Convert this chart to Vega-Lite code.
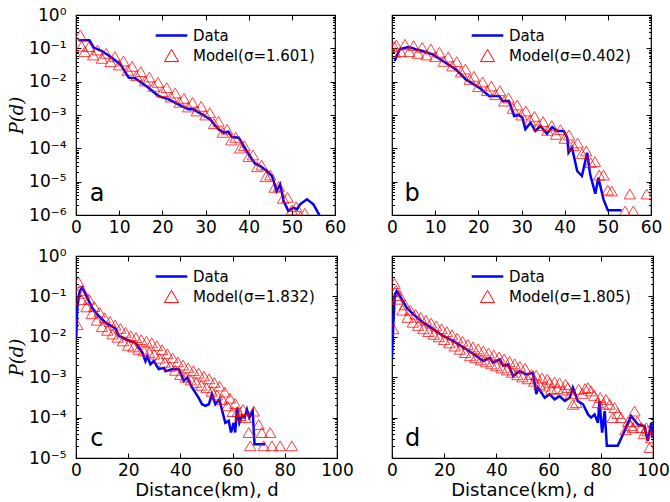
{
  "$schema": "https://vega.github.io/schema/vega-lite/v6.json",
  "padding": {"left": 7, "top": 5, "right": 5, "bottom": 5},
  "background": "white",
  "config": {
    "font": "DejaVu Sans",
    "view": {"stroke": "#000000", "strokeWidth": 1.2},
    "axis": {"grid": false, "domain": false, "labelFontSize": 17, "labelColor": "#000000", "tickColor": "#000000", "titleColor": "#000000", "labelFont": "DejaVu Sans", "labelFlush": false, "tickWidth": 1},
    "legend": {"orient": "none", "legendX": 88, "legendY": 13, "title": null, "labelFontSize": 15, "labelFont": "DejaVu Sans", "labelColor": "#000000", "symbolType": "stroke", "symbolSize": 1000, "symbolStrokeWidth": 2.5, "labelOffset": 14, "rowPadding": 3, "padding": 0}
  },
  "datasets": {
    "aD": [{"d":0.6,"p":1.74e-1},{"d":3.1,"p":1.74e-1},{"d":4.1,"p":1.05e-1},{"d":6.0,"p":8.3e-2},{"d":8.3,"p":5.2e-2},{"d":10.3,"p":3.3e-2},{"d":12.2,"p":1.32e-2},{"d":13.7,"p":1.26e-2},{"d":16.8,"p":6.6e-3},{"d":19.1,"p":3.7e-3},{"d":21.5,"p":2.95e-3},{"d":24.5,"p":1.86e-3},{"d":26.1,"p":1.48e-3},{"d":27.2,"p":1.48e-3},{"d":29.2,"p":1.05e-3},{"d":31.1,"p":7.4e-4},{"d":33.0,"p":3.7e-4},{"d":34.2,"p":2.95e-4},{"d":35.3,"p":3.16e-4},{"d":36.1,"p":2.19e-4},{"d":37.7,"p":2.09e-4},{"d":38.4,"p":1.48e-4},{"d":40.0,"p":6.6e-5},{"d":41.5,"p":3.47e-5},{"d":42.7,"p":2.95e-5},{"d":44.2,"p":2.09e-5},{"d":45.4,"p":1.48e-5},{"d":46.5,"p":5.2e-6},{"d":47.3,"p":8.3e-6},{"d":48.1,"p":2.63e-6},{"d":49.2,"p":1.32e-6},{"d":50.4,"p":1.66e-6},{"d":51.2,"p":1.48e-6},{"d":51.9,"p":2.09e-6},{"d":53.5,"p":2.95e-6},{"d":55.0,"p":2.09e-6},{"d":56.5,"p":9.3e-7},{"d":57.2,"p":6.3e-7}],
    "aM": [{"d":1,"p":2.51e-1},{"d":1.3,"p":1.17e-1},{"d":2,"p":7.94e-2},{"d":3,"p":1.12e-1},{"d":4,"p":6.31e-2},{"d":5,"p":8.91e-2},{"d":6,"p":5.01e-2},{"d":7,"p":7.08e-2},{"d":8,"p":3.98e-2},{"d":9,"p":5.62e-2},{"d":10,"p":3.16e-2},{"d":11,"p":4.17e-2},{"d":12,"p":2.19e-2},{"d":13,"p":2.88e-2},{"d":14,"p":1.51e-2},{"d":15,"p":2.0e-2},{"d":16,"p":1.05e-2},{"d":17,"p":1.38e-2},{"d":18,"p":7.24e-3},{"d":19,"p":9.55e-3},{"d":20,"p":5.01e-3},{"d":21,"p":6.61e-3},{"d":22,"p":3.47e-3},{"d":23,"p":4.57e-3},{"d":24,"p":2.40e-3},{"d":25,"p":3.16e-3},{"d":26,"p":1.74e-3},{"d":27,"p":2.40e-3},{"d":28,"p":1.32e-3},{"d":29,"p":1.82e-3},{"d":30,"p":1.0e-3},{"d":31,"p":1.17e-3},{"d":32,"p":5.5e-4},{"d":33,"p":6.46e-4},{"d":34,"p":3.02e-4},{"d":35,"p":3.72e-4},{"d":36,"p":1.78e-4},{"d":37,"p":2.14e-4},{"d":38,"p":1.02e-4},{"d":39,"p":1.2e-4},{"d":40,"p":5.62e-5},{"d":41,"p":6.31e-5},{"d":42,"p":2.82e-5},{"d":43,"p":3.16e-5},{"d":44,"p":1.41e-5},{"d":45,"p":1.58e-5},{"d":46,"p":6.76e-6},{"d":47,"p":7.24e-6},{"d":48,"p":3.16e-6},{"d":49,"p":3.39e-6},{"d":50,"p":1.41e-6},{"d":51,"p":1.78e-6},{"d":52,"p":8.91e-7},{"d":53,"p":1.12e-6}],
    "bD": [{"d":0.6,"p":4.17e-2},{"d":1.8,"p":9.33e-2},{"d":3.7,"p":1.10e-1},{"d":4.4,"p":1.05e-1},{"d":5.6,"p":9.33e-2},{"d":7.1,"p":8.32e-2},{"d":9.4,"p":6.61e-2},{"d":11.8,"p":4.17e-2},{"d":14.8,"p":2.34e-2},{"d":17.1,"p":1.17e-2},{"d":20.2,"p":6.61e-3},{"d":22.5,"p":3.72e-3},{"d":24.8,"p":3.72e-3},{"d":25.6,"p":2.63e-3},{"d":27.1,"p":2.63e-3},{"d":28.3,"p":9.33e-4},{"d":29.4,"p":1.0e-3},{"d":30.2,"p":8.32e-4},{"d":30.9,"p":3.72e-4},{"d":32.1,"p":5.89e-4},{"d":33.2,"p":3.31e-4},{"d":34.4,"p":4.68e-4},{"d":35.9,"p":2.75e-4},{"d":37.1,"p":4.37e-4},{"d":38.2,"p":3.31e-4},{"d":39.8,"p":3.31e-4},{"d":40.6,"p":2.09e-4},{"d":40.9,"p":7.41e-5},{"d":41.7,"p":1.05e-4},{"d":42.9,"p":2.09e-5},{"d":44.0,"p":1.48e-5},{"d":45.2,"p":7.41e-5},{"d":45.9,"p":1.66e-5},{"d":47.1,"p":4.37e-6},{"d":47.8,"p":1.32e-5},{"d":49.0,"p":2.95e-6},{"d":50.0,"p":1.38e-6},{"d":53.2,"p":1.38e-6}],
    "bM": [{"d":0.5,"p":1.12e-1},{"d":0.7,"p":7.59e-2},{"d":1,"p":1.26e-1},{"d":2,"p":7.94e-2},{"d":3,"p":1.32e-1},{"d":4,"p":7.94e-2},{"d":5,"p":1.2e-1},{"d":6,"p":7.08e-2},{"d":7,"p":1.07e-1},{"d":8,"p":6.31e-2},{"d":9,"p":9.55e-2},{"d":10,"p":5.62e-2},{"d":11,"p":7.59e-2},{"d":12,"p":4.07e-2},{"d":13,"p":5.5e-2},{"d":14,"p":2.95e-2},{"d":15,"p":3.98e-2},{"d":16,"p":1.95e-2},{"d":17,"p":2.4e-2},{"d":18,"p":1.17e-2},{"d":19,"p":1.45e-2},{"d":20,"p":7.08e-3},{"d":21,"p":9.77e-3},{"d":22,"p":5.37e-3},{"d":23,"p":7.41e-3},{"d":24,"p":4.07e-3},{"d":25,"p":5.37e-3},{"d":26,"p":2.63e-3},{"d":27,"p":3.24e-3},{"d":28,"p":1.58e-3},{"d":29,"p":2.0e-3},{"d":30,"p":1.0e-3},{"d":31,"p":1.32e-3},{"d":32,"p":6.92e-4},{"d":33,"p":9.12e-4},{"d":34,"p":4.79e-4},{"d":35,"p":6.31e-4},{"d":36,"p":3.47e-4},{"d":37,"p":4.79e-4},{"d":38,"p":2.63e-4},{"d":39,"p":3.63e-4},{"d":40,"p":2.0e-4},{"d":41,"p":2.51e-4},{"d":42,"p":1.2e-4},{"d":43,"p":1.45e-4},{"d":44,"p":6.92e-5},{"d":45,"p":8.32e-5},{"d":46,"p":3.72e-5},{"d":47,"p":3.98e-5},{"d":48,"p":1.58e-5},{"d":49,"p":1.58e-5},{"d":50,"p":5.62e-6},{"d":50.9,"p":5.25e-6},{"d":54.0,"p":1.32e-6},{"d":55.1,"p":4.27e-6},{"d":55.9,"p":1.32e-6},{"d":59.0,"p":4.27e-6}],
    "cD": [{"d":0.1,"p":9.55e-3},{"d":0.5,"p":5.25e-2},{"d":1.4,"p":1.35e-1},{"d":2.4,"p":1.66e-1},{"d":3.7,"p":1.12e-1},{"d":6.2,"p":5.25e-2},{"d":8.8,"p":3.24e-2},{"d":11.3,"p":2.24e-2},{"d":15.1,"p":1.62e-2},{"d":16.4,"p":1.05e-2},{"d":19.0,"p":8.71e-3},{"d":22.8,"p":7.08e-3},{"d":25.4,"p":4.07e-3},{"d":26.6,"p":2.51e-3},{"d":27.3,"p":3.31e-3},{"d":28.5,"p":2.09e-3},{"d":29.8,"p":2.51e-3},{"d":31.7,"p":1.58e-3},{"d":33.7,"p":1.70e-3},{"d":34.3,"p":1.41e-3},{"d":36.8,"p":1.58e-3},{"d":39.4,"p":1.58e-3},{"d":41.3,"p":8.13e-4},{"d":42.6,"p":9.77e-4},{"d":44.5,"p":5.5e-4},{"d":47.0,"p":3.09e-4},{"d":48.3,"p":2.14e-4},{"d":49.6,"p":1.95e-4},{"d":50.9,"p":2.14e-4},{"d":52.1,"p":3.8e-4},{"d":53.4,"p":2.14e-4},{"d":54.9,"p":2.82e-4},{"d":55.9,"p":1.58e-4},{"d":57.2,"p":7.41e-5},{"d":58.5,"p":8.32e-5},{"d":59.4,"p":4.27e-5},{"d":60.4,"p":7.41e-5},{"d":61.0,"p":4.27e-5},{"d":61.7,"p":1.78e-4},{"d":62.6,"p":7.41e-5},{"d":63.6,"p":1.1e-4},{"d":64.6,"p":1.0e-4},{"d":65.5,"p":1.58e-4},{"d":66.4,"p":1.0e-4},{"d":67.7,"p":1.45e-4},{"d":68.4,"p":2.19e-5},{"d":72.5,"p":2.19e-5}],
    "cM": [{"d":0.5,"p":2.0e-2},{"d":1,"p":2.24e-1},{"d":1.5,"p":1.41e-1},{"d":2,"p":8.32e-2},{"d":3,"p":1.2e-1},{"d":4,"p":5.5e-2},{"d":5,"p":8.51e-2},{"d":6,"p":3.72e-2},{"d":7,"p":5.62e-2},{"d":8,"p":2.57e-2},{"d":9,"p":4.07e-2},{"d":10,"p":1.78e-2},{"d":11,"p":2.95e-2},{"d":12,"p":1.45e-2},{"d":13,"p":2.4e-2},{"d":14,"p":1.17e-2},{"d":15,"p":1.95e-2},{"d":16,"p":9.77e-3},{"d":17,"p":1.62e-2},{"d":18,"p":7.94e-3},{"d":19,"p":1.29e-2},{"d":20,"p":6.17e-3},{"d":21,"p":1.07e-2},{"d":22,"p":5.62e-3},{"d":23,"p":9.55e-3},{"d":24,"p":4.9e-3},{"d":25,"p":8.51e-3},{"d":26,"p":4.47e-3},{"d":27,"p":7.76e-3},{"d":28,"p":4.07e-3},{"d":29,"p":7.08e-3},{"d":30,"p":3.72e-3},{"d":31,"p":6.03e-3},{"d":32,"p":2.95e-3},{"d":33,"p":4.79e-3},{"d":34,"p":2.34e-3},{"d":35,"p":3.8e-3},{"d":36,"p":1.86e-3},{"d":37,"p":3.02e-3},{"d":38,"p":1.48e-3},{"d":39,"p":2.4e-3},{"d":40,"p":1.17e-3},{"d":41,"p":2.0e-3},{"d":42,"p":1.0e-3},{"d":43,"p":1.7e-3},{"d":44,"p":8.51e-4},{"d":45,"p":1.45e-3},{"d":46,"p":7.41e-4},{"d":47,"p":1.26e-3},{"d":48,"p":6.31e-4},{"d":49,"p":1.07e-3},{"d":50,"p":5.5e-4},{"d":51,"p":9.12e-4},{"d":52,"p":4.47e-4},{"d":53,"p":7.41e-4},{"d":54,"p":3.63e-4},{"d":55,"p":6.03e-4},{"d":56,"p":2.82e-4},{"d":57,"p":4.27e-4},{"d":58,"p":1.95e-4},{"d":59,"p":3.02e-4},{"d":60,"p":1.41e-4},{"d":61,"p":2.24e-4},{"d":62,"p":1.41e-4},{"d":63,"p":1.12e-4},{"d":64,"p":1.58e-4},{"d":65,"p":1.0e-4},{"d":66.2,"p":4.27e-5},{"d":66.8,"p":2.0e-5},{"d":68.1,"p":1.45e-4},{"d":70,"p":6.76e-5},{"d":71.2,"p":4.27e-5},{"d":71.9,"p":2.0e-5},{"d":74.4,"p":4.27e-5},{"d":75.1,"p":2.0e-5},{"d":78.2,"p":2.0e-5},{"d":82.7,"p":2.0e-5}],
    "dD": [{"d":0.0,"p":3.02e-3},{"d":0.5,"p":2.04e-2},{"d":1.1,"p":1.12e-1},{"d":1.8,"p":1.35e-1},{"d":3.1,"p":1.02e-1},{"d":5.6,"p":5.25e-2},{"d":8.1,"p":3.63e-2},{"d":12.0,"p":2.24e-2},{"d":15.8,"p":1.55e-2},{"d":19.6,"p":1.05e-2},{"d":23.4,"p":7.94e-3},{"d":28.5,"p":4.9e-3},{"d":32.4,"p":3.31e-3},{"d":34.9,"p":2.51e-3},{"d":37.5,"p":3.02e-3},{"d":38.7,"p":2.29e-3},{"d":41.3,"p":2.75e-3},{"d":42.6,"p":1.91e-3},{"d":44.5,"p":2.09e-3},{"d":46.4,"p":1.07e-3},{"d":48.9,"p":1.41e-3},{"d":51.5,"p":1.17e-3},{"d":54.0,"p":1.29e-3},{"d":55.3,"p":3.8e-4},{"d":55.9,"p":5.5e-4},{"d":57.2,"p":4.17e-4},{"d":58.5,"p":3.09e-4},{"d":60.4,"p":3.8e-4},{"d":62.3,"p":2.82e-4},{"d":64.2,"p":3.39e-4},{"d":66.2,"p":2.57e-4},{"d":68.1,"p":3.09e-4},{"d":69.3,"p":5.5e-4},{"d":71.2,"p":2.57e-4},{"d":73.2,"p":2.14e-4},{"d":75.1,"p":1.2e-4},{"d":76.3,"p":1.0e-4},{"d":77.6,"p":1.2e-4},{"d":78.9,"p":7.41e-5},{"d":79.5,"p":2.57e-4},{"d":80.5,"p":4.27e-5},{"d":81.5,"p":1.45e-4},{"d":82.3,"p":2.0e-5},{"d":86.5,"p":2.0e-5},{"d":89.1,"p":4.68e-5},{"d":91.6,"p":1.1e-4},{"d":94.2,"p":6.76e-5},{"d":96.7,"p":6.17e-5},{"d":98.0,"p":2.63e-5},{"d":99.3,"p":7.41e-5},{"d":99.8,"p":3.16e-5}],
    "dM": [{"d":0.5,"p":1.58e-2},{"d":1,"p":2.09e-1},{"d":1.5,"p":1.41e-1},{"d":2,"p":8.51e-2},{"d":3,"p":1.05e-1},{"d":4,"p":4.57e-2},{"d":5,"p":6.17e-2},{"d":6,"p":3.02e-2},{"d":7,"p":4.57e-2},{"d":8,"p":2.29e-2},{"d":9,"p":3.63e-2},{"d":10,"p":1.91e-2},{"d":11,"p":3.02e-2},{"d":12,"p":1.58e-2},{"d":13,"p":2.57e-2},{"d":14,"p":1.35e-2},{"d":15,"p":2.19e-2},{"d":16,"p":1.15e-2},{"d":17,"p":1.86e-2},{"d":18,"p":1.0e-2},{"d":19,"p":1.58e-2},{"d":20,"p":8.51e-3},{"d":21,"p":1.35e-2},{"d":22,"p":7.08e-3},{"d":23,"p":1.12e-2},{"d":24,"p":5.89e-3},{"d":25,"p":9.33e-3},{"d":26,"p":4.9e-3},{"d":27,"p":7.76e-3},{"d":28,"p":4.07e-3},{"d":29,"p":6.46e-3},{"d":30,"p":3.39e-3},{"d":31,"p":5.62e-3},{"d":32,"p":3.02e-3},{"d":33,"p":5.01e-3},{"d":34,"p":2.69e-3},{"d":35,"p":4.47e-3},{"d":36,"p":2.4e-3},{"d":37,"p":3.98e-3},{"d":38,"p":2.14e-3},{"d":39,"p":3.55e-3},{"d":40,"p":1.91e-3},{"d":41,"p":3.16e-3},{"d":42,"p":1.7e-3},{"d":43,"p":2.82e-3},{"d":44,"p":1.51e-3},{"d":45,"p":2.45e-3},{"d":46,"p":1.32e-3},{"d":47,"p":2.14e-3},{"d":48,"p":1.15e-3},{"d":49,"p":1.86e-3},{"d":50,"p":1.02e-3},{"d":51,"p":1.66e-3},{"d":52,"p":9.12e-4},{"d":53.4,"p":1.17e-3},{"d":54.5,"p":7.94e-4},{"d":55.3,"p":1.12e-3},{"d":56.5,"p":6.61e-4},{"d":57.5,"p":9.55e-4},{"d":58.5,"p":6.03e-4},{"d":59.5,"p":8.91e-4},{"d":60.4,"p":7.24e-4},{"d":61.0,"p":5.01e-4},{"d":62.3,"p":7.59e-4},{"d":63.3,"p":5.25e-4},{"d":64.2,"p":7.24e-4},{"d":65.5,"p":4.79e-4},{"d":66.5,"p":6.61e-4},{"d":67.4,"p":5.5e-4},{"d":68.5,"p":3.98e-4},{"d":69.3,"p":2.14e-4},{"d":70.6,"p":2.34e-4},{"d":71.5,"p":5.01e-4},{"d":73.0,"p":3.98e-4},{"d":74.0,"p":5.25e-4},{"d":75.1,"p":5.5e-4},{"d":76.3,"p":4.57e-4},{"d":77.5,"p":3.55e-4},{"d":78.9,"p":2.34e-4},{"d":79.8,"p":3.16e-4},{"d":80.8,"p":2.14e-4},{"d":82.0,"p":2.82e-4},{"d":83.4,"p":2.14e-4},{"d":84.6,"p":1.0e-4},{"d":85.3,"p":1.78e-4},{"d":86.5,"p":1.26e-4},{"d":87.8,"p":1.0e-4},{"d":89.5,"p":5.01e-5},{"d":90.5,"p":7.94e-5},{"d":91.5,"p":6.31e-5},{"d":92.3,"p":5.62e-5},{"d":92.9,"p":1.45e-4},{"d":94.0,"p":7.94e-5},{"d":95.5,"p":5.62e-5},{"d":96.5,"p":3.98e-5},{"d":97.5,"p":5.62e-5},{"d":98.0,"p":4.68e-5},{"d":98.7,"p":1.82e-5},{"d":99.3,"p":3.16e-5}]
  },
  "columns": 2,
  "spacing": {"row": 41, "column": 55},
  "bounds": "flush",
  "resolve": {"scale": {"color": "independent", "x": "independent", "y": "independent"}, "legend": {"color": "independent"}},
  "concat": [
    {
      "width": 259, "height": 200,
      "resolve": {"axis": {"x": "independent", "y": "independent"}},
      "layer": [
        {"data": {"name": "aD"}, "mark": {"type": "line", "strokeWidth": 2.5, "clip": true},
         "encoding": {
           "x": {"field": "d", "type": "quantitative", "scale": {"domain": [0, 60], "nice": false}, "axis": {"orient": "bottom", "values": [0,10,20,30,40,50,60], "title": null, "tickSize": -5, "labelPadding": 9}},
           "y": {"field": "p", "type": "quantitative", "scale": {"type": "log", "domain": [1e-6, 1], "nice": false}, "axis": {"orient": "left", "values": [1,0.1,0.01,0.001,0.0001,0.00001,0.000001], "labelExpr": "'10' + ['⁰','⁻¹','⁻²','⁻³','⁻⁴','⁻⁵','⁻⁶'][round(-log(datum.value)/LN10)]", "tickSize": -5, "labelPadding": 15, "title": "P(d)", "titleFont": "DejaVu Serif", "titleFontStyle": "italic", "titleFontWeight": "normal", "titleFontSize": 18, "titlePadding": 2}},
           "color": {"datum": "Data", "type": "nominal", "scale": {"domain": ["Data", "Model(σ=1.601)"], "range": ["#0000ff", "#ff0000"]},
             "legend": {"encode": {"symbols": {"update": {"shape": {"signal": "datum.value === 'Data' ? 'stroke' : 'triangle-up'"}, "size": {"signal": "datum.value === 'Data' ? 1000 : 200"}, "strokeWidth": {"signal": "datum.value === 'Data' ? 2.5 : 1"}, "fill": {"value": "transparent"}, "opacity": {"value": 1}}}}}}
         }},
        {"data": {"name": "aM"}, "mark": {"type": "point", "shape": "triangle-up", "filled": false, "size": 130, "strokeWidth": 1, "opacity": 0.75, "clip": true},
         "encoding": {
           "x": {"field": "d", "type": "quantitative", "scale": {"domain": [0, 60], "nice": false}, "axis": {"orient": "top", "values": [0,10,20,30,40,50,60], "labels": false, "title": null, "tickSize": -5}},
           "y": {"field": "p", "type": "quantitative", "scale": {"type": "log", "domain": [1e-6, 1], "nice": false}, "axis": {"orient": "right", "values": [1,0.1,0.01,0.001,0.0001,0.00001,0.000001], "labels": false, "title": null, "tickSize": -5}},
           "color": {"datum": "Model(σ=1.601)", "type": "nominal"}
         }},
        {"data": {"values": [{"d": 3.2, "p": 2.63e-6, "t": "a"}]}, "mark": {"type": "text", "fontSize": 24, "align": "left", "baseline": "alphabetic", "color": "#000000"},
         "encoding": {
           "x": {"field": "d", "type": "quantitative", "scale": {"domain": [0, 60], "nice": false}, "axis": null},
           "y": {"field": "p", "type": "quantitative", "scale": {"type": "log", "domain": [1e-6, 1], "nice": false}, "axis": {"orient": "left", "values": [2e-6,3e-6,4e-6,5e-6,6e-6,7e-6,8e-6,9e-6,2e-5,3e-5,4e-5,5e-5,6e-5,7e-5,8e-5,9e-5,2e-4,3e-4,4e-4,5e-4,6e-4,7e-4,8e-4,9e-4,2e-3,3e-3,4e-3,5e-3,6e-3,7e-3,8e-3,9e-3,2e-2,3e-2,4e-2,5e-2,6e-2,7e-2,8e-2,9e-2,2e-1,3e-1,4e-1,5e-1,6e-1,7e-1,8e-1,9e-1], "labels": false, "title": null, "tickSize": -2.5}},
           "text": {"field": "t"}
         }},
        {"data": {"values": [{"d": 3.2, "p": 2.63e-6, "t": "a"}]}, "mark": {"type": "text", "opacity": 0},
         "encoding": {
           "x": {"field": "d", "type": "quantitative", "scale": {"domain": [0, 60], "nice": false}, "axis": null},
           "y": {"field": "p", "type": "quantitative", "scale": {"type": "log", "domain": [1e-6, 1], "nice": false}, "axis": {"orient": "right", "values": [2e-6,3e-6,4e-6,5e-6,6e-6,7e-6,8e-6,9e-6,2e-5,3e-5,4e-5,5e-5,6e-5,7e-5,8e-5,9e-5,2e-4,3e-4,4e-4,5e-4,6e-4,7e-4,8e-4,9e-4,2e-3,3e-3,4e-3,5e-3,6e-3,7e-3,8e-3,9e-3,2e-2,3e-2,4e-2,5e-2,6e-2,7e-2,8e-2,9e-2,2e-1,3e-1,4e-1,5e-1,6e-1,7e-1,8e-1,9e-1], "labels": false, "title": null, "tickSize": -2.5}},
           "text": {"field": "t"}
         }}
      ]
    },
    {
      "width": 259, "height": 200,
      "resolve": {"axis": {"x": "independent", "y": "independent"}},
      "layer": [
        {"data": {"name": "bD"}, "mark": {"type": "line", "strokeWidth": 2.5, "clip": true},
         "encoding": {
           "x": {"field": "d", "type": "quantitative", "scale": {"domain": [0, 60], "nice": false}, "axis": {"orient": "bottom", "values": [0,10,20,30,40,50,60], "title": null, "tickSize": -5, "labelPadding": 9}},
           "y": {"field": "p", "type": "quantitative", "scale": {"type": "log", "domain": [1e-6, 1], "nice": false}, "axis": {"orient": "left", "values": [1,0.1,0.01,0.001,0.0001,0.00001,0.000001], "labels": false, "tickSize": -5, "title": null}},
           "color": {"datum": "Data", "type": "nominal", "scale": {"domain": ["Data", "Model(σ=0.402)"], "range": ["#0000ff", "#ff0000"]},
             "legend": {"encode": {"symbols": {"update": {"shape": {"signal": "datum.value === 'Data' ? 'stroke' : 'triangle-up'"}, "size": {"signal": "datum.value === 'Data' ? 1000 : 200"}, "strokeWidth": {"signal": "datum.value === 'Data' ? 2.5 : 1"}, "fill": {"value": "transparent"}, "opacity": {"value": 1}}}}}}
         }},
        {"data": {"name": "bM"}, "mark": {"type": "point", "shape": "triangle-up", "filled": false, "size": 130, "strokeWidth": 1, "opacity": 0.75, "clip": true},
         "encoding": {
           "x": {"field": "d", "type": "quantitative", "scale": {"domain": [0, 60], "nice": false}, "axis": {"orient": "top", "values": [0,10,20,30,40,50,60], "labels": false, "title": null, "tickSize": -5}},
           "y": {"field": "p", "type": "quantitative", "scale": {"type": "log", "domain": [1e-6, 1], "nice": false}, "axis": {"orient": "right", "values": [1,0.1,0.01,0.001,0.0001,0.00001,0.000001], "labels": false, "title": null, "tickSize": -5}},
           "color": {"datum": "Model(σ=0.402)", "type": "nominal"}
         }},
        {"data": {"values": [{"d": 2.9, "p": 2.63e-6, "t": "b"}]}, "mark": {"type": "text", "fontSize": 24, "align": "left", "baseline": "alphabetic", "color": "#000000"},
         "encoding": {
           "x": {"field": "d", "type": "quantitative", "scale": {"domain": [0, 60], "nice": false}, "axis": null},
           "y": {"field": "p", "type": "quantitative", "scale": {"type": "log", "domain": [1e-6, 1], "nice": false}, "axis": {"orient": "left", "values": [2e-6,3e-6,4e-6,5e-6,6e-6,7e-6,8e-6,9e-6,2e-5,3e-5,4e-5,5e-5,6e-5,7e-5,8e-5,9e-5,2e-4,3e-4,4e-4,5e-4,6e-4,7e-4,8e-4,9e-4,2e-3,3e-3,4e-3,5e-3,6e-3,7e-3,8e-3,9e-3,2e-2,3e-2,4e-2,5e-2,6e-2,7e-2,8e-2,9e-2,2e-1,3e-1,4e-1,5e-1,6e-1,7e-1,8e-1,9e-1], "labels": false, "title": null, "tickSize": -2.5}},
           "text": {"field": "t"}
         }},
        {"data": {"values": [{"d": 2.9, "p": 2.63e-6, "t": "b"}]}, "mark": {"type": "text", "opacity": 0},
         "encoding": {
           "x": {"field": "d", "type": "quantitative", "scale": {"domain": [0, 60], "nice": false}, "axis": null},
           "y": {"field": "p", "type": "quantitative", "scale": {"type": "log", "domain": [1e-6, 1], "nice": false}, "axis": {"orient": "right", "values": [2e-6,3e-6,4e-6,5e-6,6e-6,7e-6,8e-6,9e-6,2e-5,3e-5,4e-5,5e-5,6e-5,7e-5,8e-5,9e-5,2e-4,3e-4,4e-4,5e-4,6e-4,7e-4,8e-4,9e-4,2e-3,3e-3,4e-3,5e-3,6e-3,7e-3,8e-3,9e-3,2e-2,3e-2,4e-2,5e-2,6e-2,7e-2,8e-2,9e-2,2e-1,3e-1,4e-1,5e-1,6e-1,7e-1,8e-1,9e-1], "labels": false, "title": null, "tickSize": -2.5}},
           "text": {"field": "t"}
         }}
      ]
    },
    {
      "width": 261, "height": 202,
      "resolve": {"axis": {"x": "independent", "y": "independent"}},
      "layer": [
        {"data": {"name": "cD"}, "mark": {"type": "line", "strokeWidth": 2.5, "clip": true},
         "encoding": {
           "x": {"field": "d", "type": "quantitative", "scale": {"domain": [0, 100], "nice": false}, "axis": {"orient": "bottom", "values": [0,20,40,60,80,100], "title": "Distance(km), d", "titleFontSize": 18, "titleFontWeight": "normal", "titlePadding": 3, "tickSize": -5, "labelPadding": 9}},
           "y": {"field": "p", "type": "quantitative", "scale": {"type": "log", "domain": [1e-5, 1], "nice": false}, "axis": {"orient": "left", "values": [1,0.1,0.01,0.001,0.0001,0.00001], "labelExpr": "'10' + ['⁰','⁻¹','⁻²','⁻³','⁻⁴','⁻⁵','⁻⁶'][round(-log(datum.value)/LN10)]", "tickSize": -5, "labelPadding": 15, "title": "P(d)", "titleFont": "DejaVu Serif", "titleFontStyle": "italic", "titleFontWeight": "normal", "titleFontSize": 18, "titlePadding": 2}},
           "color": {"datum": "Data", "type": "nominal", "scale": {"domain": ["Data", "Model(σ=1.832)"], "range": ["#0000ff", "#ff0000"]},
             "legend": {"encode": {"symbols": {"update": {"shape": {"signal": "datum.value === 'Data' ? 'stroke' : 'triangle-up'"}, "size": {"signal": "datum.value === 'Data' ? 1000 : 200"}, "strokeWidth": {"signal": "datum.value === 'Data' ? 2.5 : 1"}, "fill": {"value": "transparent"}, "opacity": {"value": 1}}}}}}
         }},
        {"data": {"name": "cM"}, "mark": {"type": "point", "shape": "triangle-up", "filled": false, "size": 130, "strokeWidth": 1, "opacity": 0.75, "clip": true},
         "encoding": {
           "x": {"field": "d", "type": "quantitative", "scale": {"domain": [0, 100], "nice": false}, "axis": {"orient": "top", "values": [0,20,40,60,80,100], "labels": false, "title": null, "tickSize": -5}},
           "y": {"field": "p", "type": "quantitative", "scale": {"type": "log", "domain": [1e-5, 1], "nice": false}, "axis": {"orient": "right", "values": [1,0.1,0.01,0.001,0.0001,0.00001], "labels": false, "title": null, "tickSize": -5}},
           "color": {"datum": "Model(σ=1.832)", "type": "nominal"}
         }},
        {"data": {"values": [{"d": 5.5, "p": 2.0e-5, "t": "c"}]}, "mark": {"type": "text", "fontSize": 24, "align": "left", "baseline": "alphabetic", "color": "#000000"},
         "encoding": {
           "x": {"field": "d", "type": "quantitative", "scale": {"domain": [0, 100], "nice": false}, "axis": null},
           "y": {"field": "p", "type": "quantitative", "scale": {"type": "log", "domain": [1e-5, 1], "nice": false}, "axis": {"orient": "left", "values": [2e-5,3e-5,4e-5,5e-5,6e-5,7e-5,8e-5,9e-5,2e-4,3e-4,4e-4,5e-4,6e-4,7e-4,8e-4,9e-4,2e-3,3e-3,4e-3,5e-3,6e-3,7e-3,8e-3,9e-3,2e-2,3e-2,4e-2,5e-2,6e-2,7e-2,8e-2,9e-2,2e-1,3e-1,4e-1,5e-1,6e-1,7e-1,8e-1,9e-1], "labels": false, "title": null, "tickSize": -2.5}},
           "text": {"field": "t"}
         }},
        {"data": {"values": [{"d": 5.5, "p": 2.0e-5, "t": "c"}]}, "mark": {"type": "text", "opacity": 0},
         "encoding": {
           "x": {"field": "d", "type": "quantitative", "scale": {"domain": [0, 100], "nice": false}, "axis": null},
           "y": {"field": "p", "type": "quantitative", "scale": {"type": "log", "domain": [1e-5, 1], "nice": false}, "axis": {"orient": "right", "values": [2e-5,3e-5,4e-5,5e-5,6e-5,7e-5,8e-5,9e-5,2e-4,3e-4,4e-4,5e-4,6e-4,7e-4,8e-4,9e-4,2e-3,3e-3,4e-3,5e-3,6e-3,7e-3,8e-3,9e-3,2e-2,3e-2,4e-2,5e-2,6e-2,7e-2,8e-2,9e-2,2e-1,3e-1,4e-1,5e-1,6e-1,7e-1,8e-1,9e-1], "labels": false, "title": null, "tickSize": -2.5}},
           "text": {"field": "t"}
         }}
      ]
    },
    {
      "width": 261, "height": 202,
      "resolve": {"axis": {"x": "independent", "y": "independent"}},
      "layer": [
        {"data": {"name": "dD"}, "mark": {"type": "line", "strokeWidth": 2.5, "clip": true},
         "encoding": {
           "x": {"field": "d", "type": "quantitative", "scale": {"domain": [0, 100], "nice": false}, "axis": {"orient": "bottom", "values": [0,20,40,60,80,100], "title": "Distance(km), d", "titleFontSize": 18, "titleFontWeight": "normal", "titlePadding": 3, "tickSize": -5, "labelPadding": 9}},
           "y": {"field": "p", "type": "quantitative", "scale": {"type": "log", "domain": [1e-5, 1], "nice": false}, "axis": {"orient": "left", "values": [1,0.1,0.01,0.001,0.0001,0.00001], "labels": false, "tickSize": -5, "title": null}},
           "color": {"datum": "Data", "type": "nominal", "scale": {"domain": ["Data", "Model(σ=1.805)"], "range": ["#0000ff", "#ff0000"]},
             "legend": {"encode": {"symbols": {"update": {"shape": {"signal": "datum.value === 'Data' ? 'stroke' : 'triangle-up'"}, "size": {"signal": "datum.value === 'Data' ? 1000 : 200"}, "strokeWidth": {"signal": "datum.value === 'Data' ? 2.5 : 1"}, "fill": {"value": "transparent"}, "opacity": {"value": 1}}}}}}
         }},
        {"data": {"name": "dM"}, "mark": {"type": "point", "shape": "triangle-up", "filled": false, "size": 130, "strokeWidth": 1, "opacity": 0.75, "clip": true},
         "encoding": {
           "x": {"field": "d", "type": "quantitative", "scale": {"domain": [0, 100], "nice": false}, "axis": {"orient": "top", "values": [0,20,40,60,80,100], "labels": false, "title": null, "tickSize": -5}},
           "y": {"field": "p", "type": "quantitative", "scale": {"type": "log", "domain": [1e-5, 1], "nice": false}, "axis": {"orient": "right", "values": [1,0.1,0.01,0.001,0.0001,0.00001], "labels": false, "title": null, "tickSize": -5}},
           "color": {"datum": "Model(σ=1.805)", "type": "nominal"}
         }},
        {"data": {"values": [{"d": 5.0, "p": 2.0e-5, "t": "d"}]}, "mark": {"type": "text", "fontSize": 24, "align": "left", "baseline": "alphabetic", "color": "#000000"},
         "encoding": {
           "x": {"field": "d", "type": "quantitative", "scale": {"domain": [0, 100], "nice": false}, "axis": null},
           "y": {"field": "p", "type": "quantitative", "scale": {"type": "log", "domain": [1e-5, 1], "nice": false}, "axis": {"orient": "left", "values": [2e-5,3e-5,4e-5,5e-5,6e-5,7e-5,8e-5,9e-5,2e-4,3e-4,4e-4,5e-4,6e-4,7e-4,8e-4,9e-4,2e-3,3e-3,4e-3,5e-3,6e-3,7e-3,8e-3,9e-3,2e-2,3e-2,4e-2,5e-2,6e-2,7e-2,8e-2,9e-2,2e-1,3e-1,4e-1,5e-1,6e-1,7e-1,8e-1,9e-1], "labels": false, "title": null, "tickSize": -2.5}},
           "text": {"field": "t"}
         }},
        {"data": {"values": [{"d": 5.0, "p": 2.0e-5, "t": "d"}]}, "mark": {"type": "text", "opacity": 0},
         "encoding": {
           "x": {"field": "d", "type": "quantitative", "scale": {"domain": [0, 100], "nice": false}, "axis": null},
           "y": {"field": "p", "type": "quantitative", "scale": {"type": "log", "domain": [1e-5, 1], "nice": false}, "axis": {"orient": "right", "values": [2e-5,3e-5,4e-5,5e-5,6e-5,7e-5,8e-5,9e-5,2e-4,3e-4,4e-4,5e-4,6e-4,7e-4,8e-4,9e-4,2e-3,3e-3,4e-3,5e-3,6e-3,7e-3,8e-3,9e-3,2e-2,3e-2,4e-2,5e-2,6e-2,7e-2,8e-2,9e-2,2e-1,3e-1,4e-1,5e-1,6e-1,7e-1,8e-1,9e-1], "labels": false, "title": null, "tickSize": -2.5}},
           "text": {"field": "t"}
         }}
      ]
    }
  ]
}
